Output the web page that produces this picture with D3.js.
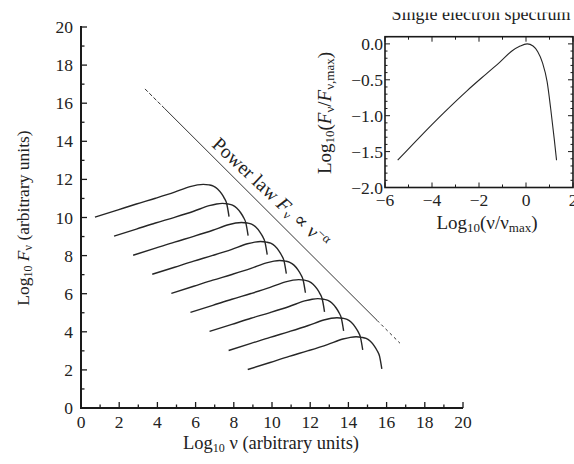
<!DOCTYPE html>
<html><head><meta charset="utf-8">
<script src="https://cdn.jsdelivr.net/npm/d3@7"></script>
<style>body{margin:0;background:#fff}svg{display:block}text{font-family:"Liberation Serif","DejaVu Serif",serif;fill:#222}</style>
</head><body><svg id="c" width="574" height="464"></svg>
<script>
// ---- data ----
const mainXTicks = [0, 2, 4, 6, 8, 10, 12, 14, 16, 18, 20];
const mainYTicks = [0, 2, 4, 6, 8, 10, 12, 14, 16, 18, 20];
// shape of one curve in the main panel, relative to its peak (log nu, log F)
const mainShapeX = [-5.67, -4.5, -3.5, -2.5, -1.5, -0.69, -0.3, 0, 0.3, 0.53, 0.75, 0.96, 1.1, 1.23, 1.35];
const mainShapeY = [-1.72, -1.35, -1.03, -0.73, -0.41, -0.12, -0.03, 0, -0.03, -0.09, -0.24, -0.49, -0.72, -1.02, -1.69];
// peak positions of the nine spectra
const curvePeakX = [6.4, 7.4, 8.4, 9.4, 10.4, 11.4, 12.4, 13.4, 14.4];
const curvePeakY = [11.74, 10.74, 9.74, 8.74, 7.74, 6.74, 5.74, 4.74, 3.74];
// power-law line end points
const powerX = [3.35, 4.4, 15.5, 16.7];
const powerY = [16.75, 15.7, 4.6, 3.4];
// inset: single electron spectrum
const insetX = [-5.46, -4.5, -3.5, -2.5, -1.7, -1.1, -0.6, -0.25, 0.05, 0.3, 0.5, 0.7, 0.9, 1.05, 1.2, 1.3];
const insetY = [-1.62, -1.29, -0.96, -0.65, -0.42, -0.25, -0.10, -0.03, 0.0, -0.03, -0.11, -0.26, -0.53, -0.9, -1.32, -1.62];
const insetXTicks = [-6, -4, -2, 0, 2];
const insetYTicks = [0, -0.5, -1.0, -1.5, -2.0];

const svg = d3.select("#c");
const ink = "#1a1a1a";

// ---- main panel ----
const x = d3.scaleLinear().domain([0, 20]).range([81, 463]);
const y = d3.scaleLinear().domain([0, 20]).range([408, 27]);

function drawAxisTicks(g, scale, orient, major, minor, majLen, minLen) {
  minor.forEach(v => {
    const len = major.includes(v) ? majLen : minLen;
    if (orient === "bottom") g.append("line").attr("x1", scale(v)).attr("x2", scale(v)).attr("y1", 0).attr("y2", -len);
    if (orient === "top") g.append("line").attr("x1", scale(v)).attr("x2", scale(v)).attr("y1", 0).attr("y2", len);
    if (orient === "left") g.append("line").attr("y1", scale(v)).attr("y2", scale(v)).attr("x1", 0).attr("x2", len);
    if (orient === "right") g.append("line").attr("y1", scale(v)).attr("y2", scale(v)).attr("x1", 0).attr("x2", -len);
  });
}

const gx = svg.append("g").attr("transform", "translate(0,408)").attr("stroke", ink).attr("stroke-width", 1.3);
gx.append("line").attr("x1", 80).attr("x2", 463).attr("stroke-width", 2);
drawAxisTicks(gx, x, "bottom", mainXTicks, d3.range(0, 21, 1), 6, 3.5);
gx.selectAll("text.t").data(mainXTicks).join("text").attr("class", "t")
  .attr("x", d => x(d)).attr("y", 20).attr("text-anchor", "middle").attr("stroke", "none")
  .attr("font-size", 17.5).text(d => d);

const gy = svg.append("g").attr("transform", "translate(81,0)").attr("stroke", ink).attr("stroke-width", 1.3);
gy.append("line").attr("y1", 26).attr("y2", 409).attr("stroke-width", 2);
drawAxisTicks(gy, y, "left", mainYTicks, d3.range(0, 21, 1), 6, 3.5);
gy.selectAll("text.t").data(mainYTicks).join("text").attr("class", "t")
  .attr("x", -8).attr("y", d => y(d) + 6).attr("text-anchor", "end").attr("stroke", "none")
  .attr("font-size", 17.5).text(d => d);

// axis labels
const xl = svg.append("text").attr("x", 271).attr("y", 449).attr("text-anchor", "middle").attr("font-size", 18.5);
xl.append("tspan").text("Log");
xl.append("tspan").attr("font-size", 12).attr("dy", 3).text("10");
xl.append("tspan").attr("dy", -3).text(" ν (arbitrary units)");

const yl = svg.append("text").attr("transform", "translate(29,218) rotate(-90)").attr("text-anchor", "middle").attr("font-size", 17.5);
yl.append("tspan").text("Log");
yl.append("tspan").attr("font-size", 12).attr("dy", 3).text("10");
yl.append("tspan").attr("dy", -3).attr("font-style", "italic").text(" F");
yl.append("tspan").attr("font-size", 12).attr("dy", 3).text("ν");
yl.append("tspan").attr("dy", -3).text(" (arbitrary units)");

// spectra
const line = d3.line().x(d => x(d[0])).y(d => y(d[1])).curve(d3.curveMonotoneX);
curvePeakX.forEach((px, i) => {
  const pts = mainShapeX.map((dx, j) => [px + dx, curvePeakY[i] + mainShapeY[j]]);
  svg.append("path").attr("d", line(pts)).attr("fill", "none").attr("stroke", "#262626").attr("stroke-width", 1.4);
});

// power law
const pl = d3.line().x(d => x(d[0])).y(d => y(d[1]));
svg.append("path").attr("d", pl([[powerX[0], powerY[0]], [powerX[1], powerY[1]]])).attr("stroke", "#333").attr("stroke-width", 1).attr("stroke-dasharray", "4,2").attr("fill", "none");
svg.append("path").attr("d", pl([[powerX[1], powerY[1]], [powerX[2], powerY[2]]])).attr("stroke", "#333").attr("stroke-width", 1).attr("fill", "none");
svg.append("path").attr("d", pl([[powerX[2], powerY[2]], [powerX[3], powerY[3]]])).attr("stroke", "#333").attr("stroke-width", 1).attr("stroke-dasharray", "3,3").attr("fill", "none");

// power law label
const ang = Math.atan2(y(powerY[2]) - y(powerY[1]), x(powerX[2]) - x(powerX[1])) * 180 / Math.PI;
const lx = x(6.6) + 4, ly = y(20.1 - 6.6) - 5;
const pt = svg.append("text").attr("transform", `translate(${lx},${ly}) rotate(${ang - 2})`).attr("font-size", 19.5);
pt.append("tspan").text("Power law ");
pt.append("tspan").attr("font-style", "italic").text("F");
pt.append("tspan").attr("font-size", 13).attr("dy", 3).text("ν");
pt.append("tspan").attr("dy", -3).text(" ∝ ν");
pt.append("tspan").attr("font-size", 13).attr("dy", -7).text("−α");

// ---- inset ----
const ix = d3.scaleLinear().domain([-6, 2]).range([385, 573]);
const iy = d3.scaleLinear().domain([-2, 0.1]).range([187.5, 36.7]);
const ig = svg.append("g").attr("stroke", ink).attr("stroke-width", 1);
ig.append("rect").attr("x", 385).attr("y", 36.7).attr("width", 188).attr("height", 150.8).attr("fill", "none").attr("stroke-width", 1.6);
const xm = d3.range(-6, 2.01, 1), ym = d3.range(-2, 0.101, 0.1).map(v => +v.toFixed(1));
const gb = ig.append("g").attr("transform", "translate(0,187.5)");
drawAxisTicks(gb, ix, "bottom", insetXTicks, xm, 5, 3);
const gt = ig.append("g").attr("transform", "translate(0,36.7)");
drawAxisTicks(gt, ix, "top", insetXTicks, xm, 5, 3);
const gl = ig.append("g").attr("transform", "translate(385,0)");
drawAxisTicks(gl, iy, "left", insetYTicks, ym, 5, 2.5);
const gr = ig.append("g").attr("transform", "translate(573,0)");
drawAxisTicks(gr, iy, "right", insetYTicks, ym, 5, 2.5);

svg.selectAll("text.ixt").data(insetXTicks).join("text").attr("class", "ixt")
  .attr("x", d => ix(d)).attr("y", 206).attr("text-anchor", "middle").attr("font-size", 17.5)
  .text(d => d < 0 ? "−" + Math.abs(d) : d);
svg.selectAll("text.iyt").data(insetYTicks).join("text").attr("class", "iyt")
  .attr("x", 383).attr("y", d => iy(d) + 6).attr("text-anchor", "end").attr("font-size", 17.5)
  .text(d => d < 0 ? "−" + Math.abs(d).toFixed(1) : d.toFixed(1));

const il = d3.line().x(d => ix(d[0])).y(d => iy(d[1])).curve(d3.curveMonotoneX);
svg.append("path").attr("d", il(insetX.map((v, i) => [v, insetY[i]]))).attr("fill", "none").attr("stroke", "#262626").attr("stroke-width", 1.1);

const ixl = svg.append("text").attr("x", 487).attr("y", 229).attr("text-anchor", "middle").attr("font-size", 19);
ixl.append("tspan").text("Log");
ixl.append("tspan").attr("font-size", 13).attr("dy", 3).text("10");
ixl.append("tspan").attr("dy", -3).text("(ν/ν");
ixl.append("tspan").attr("font-size", 13).attr("dy", 3).text("max");
ixl.append("tspan").attr("dy", -3).text(")");

const iyl = svg.append("text").attr("transform", "translate(331,113) rotate(-90)").attr("text-anchor", "middle").attr("font-size", 19);
iyl.append("tspan").text("Log");
iyl.append("tspan").attr("font-size", 13).attr("dy", 3).text("10");
iyl.append("tspan").attr("dy", -3).text("(");
iyl.append("tspan").attr("font-style", "italic").text("F");
iyl.append("tspan").attr("font-size", 13).attr("dy", 3).text("ν");
iyl.append("tspan").attr("dy", -3).text("/");
iyl.append("tspan").attr("font-style", "italic").text("F");
iyl.append("tspan").attr("font-size", 13).attr("dy", 3).text("ν,max");
iyl.append("tspan").attr("dy", -3).text(")");

// title, top clipped as in the picture
svg.append("clipPath").attr("id", "tc").append("rect").attr("x", 300).attr("y", 12.5).attr("width", 274).attr("height", 20);
svg.append("text").attr("clip-path", "url(#tc)").attr("x", 481).attr("y", 19.5).attr("text-anchor", "middle")
  .attr("font-size", 18).text("Single electron spectrum");
</script></body></html>
